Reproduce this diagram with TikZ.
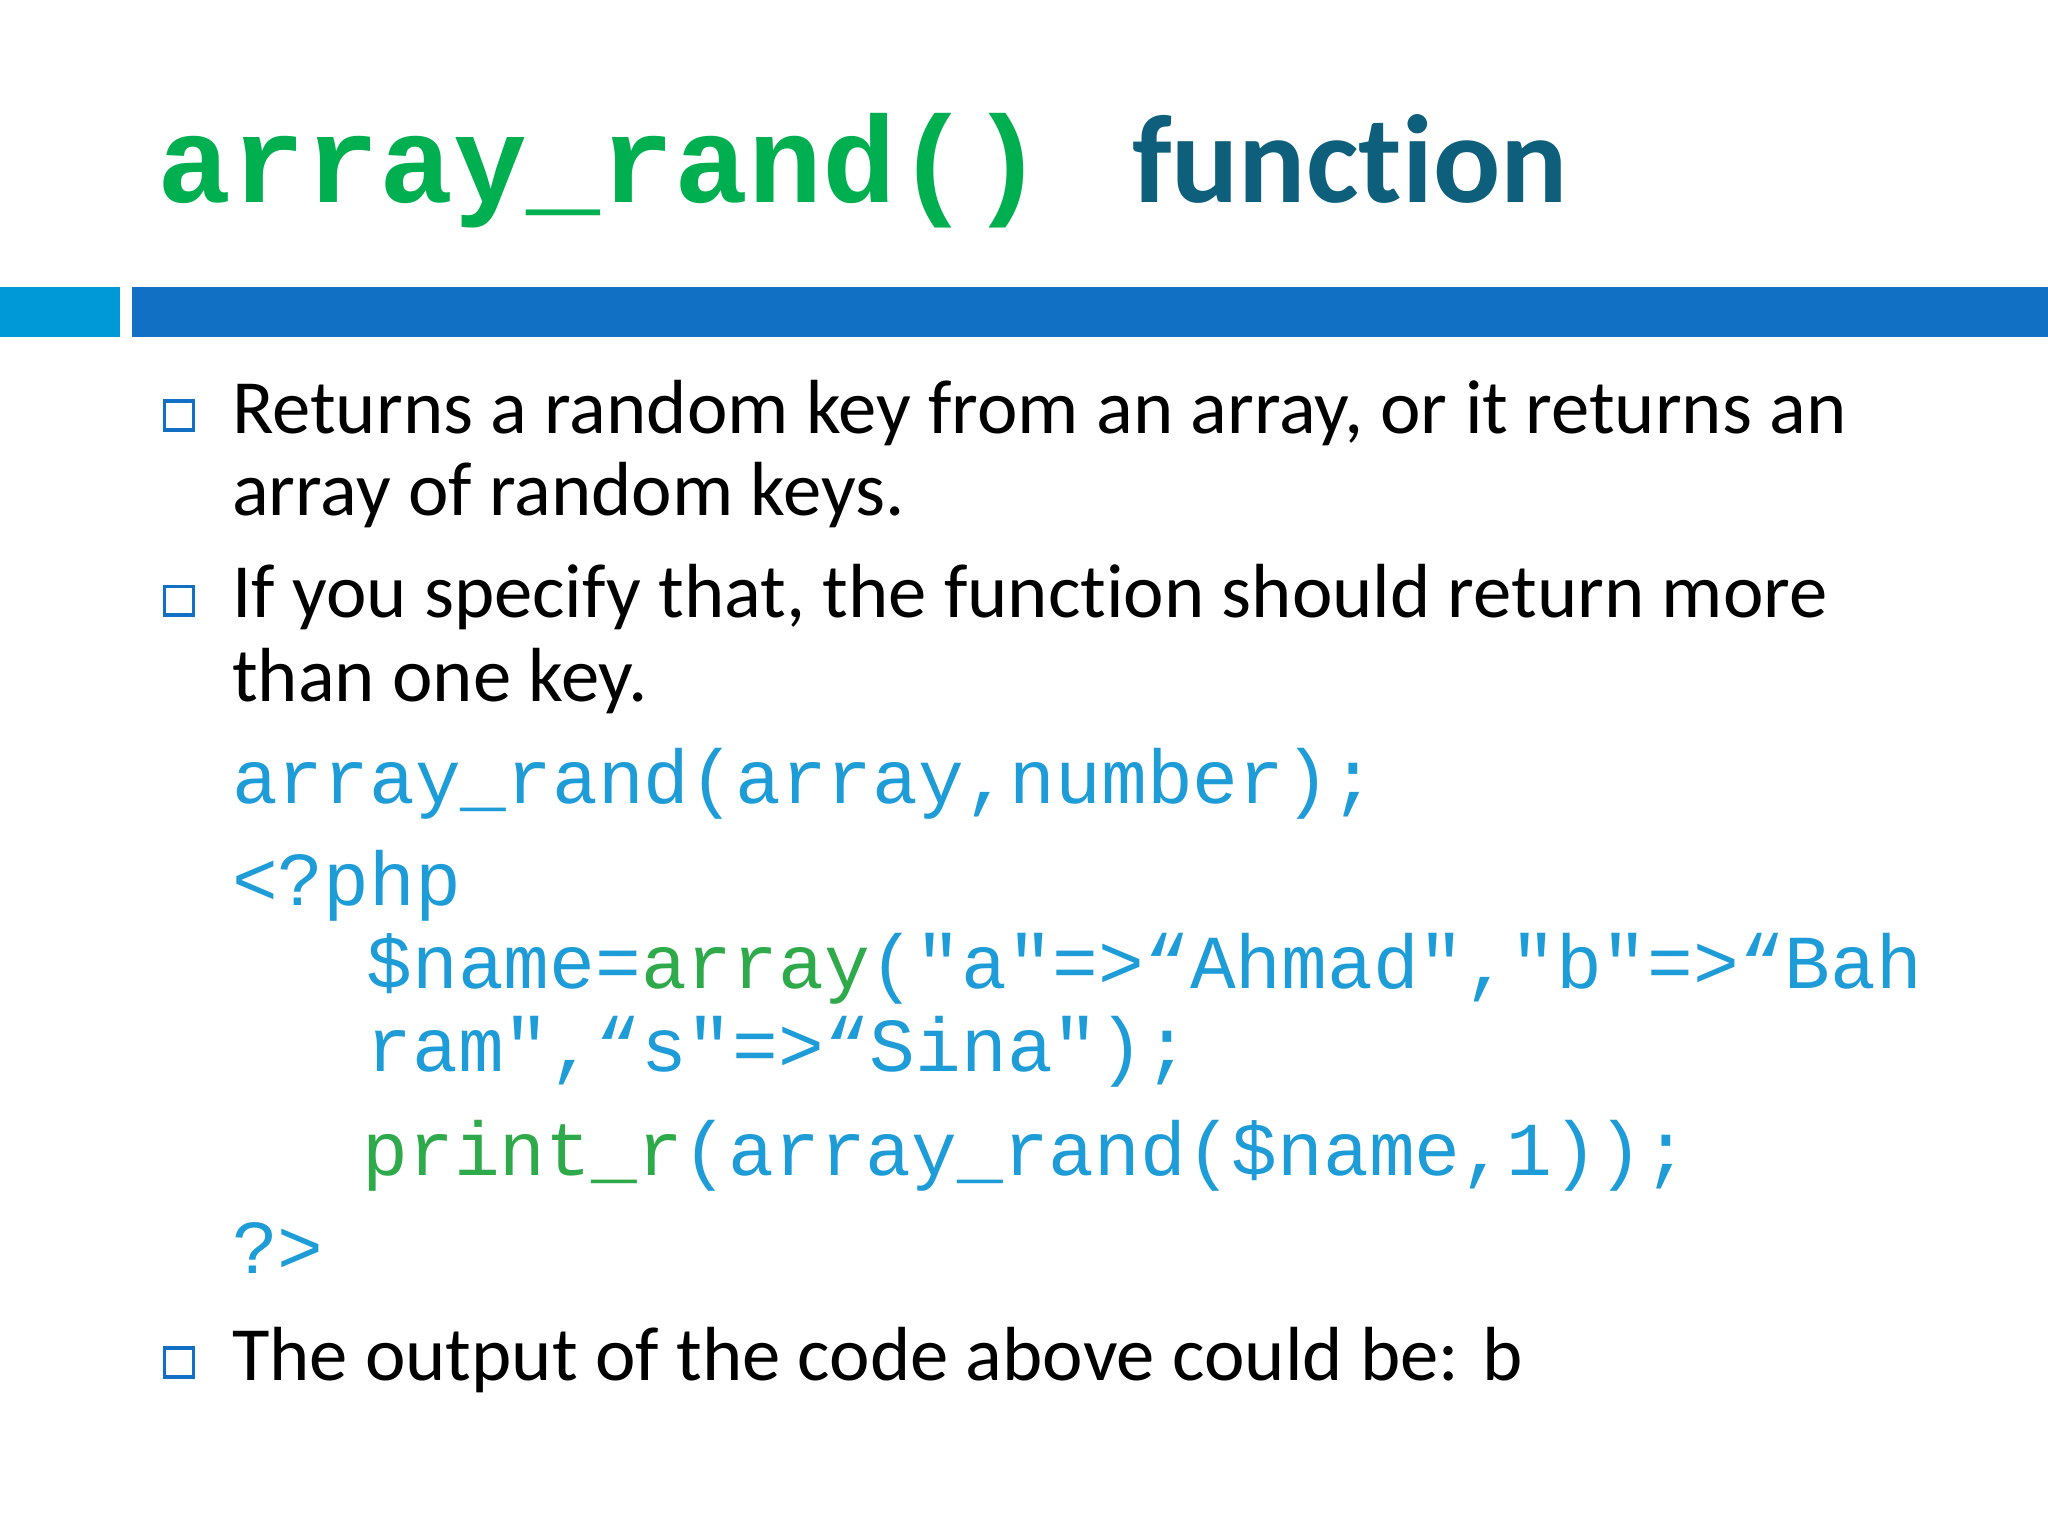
\documentclass[tikz,border=0pt]{standalone}
\usepackage{fontspec}
\setmainfont[Ligatures={NoCommon}]{Carlito}
\newfontfamily\cour{Liberation Mono}
\definecolor{tgreen}{HTML}{00B050}
\definecolor{tteal}{HTML}{0E5F7C}
\definecolor{lblue}{HTML}{0099D8}
\definecolor{dblue}{HTML}{1170C4}
\definecolor{cblue}{HTML}{1E9CD7}
\definecolor{cgreen}{HTML}{2EAA4A}
\tikzset{txt/.style={anchor=base west,inner sep=0,font=\fontsize{16.7}{20}\selectfont},
code/.style={anchor=base west,inner sep=0,text=cblue,font=\cour\fontsize{16.6}{20}\selectfont},
bul/.style={draw=dblue,line width=0.8pt,minimum size=6.3pt,inner sep=0}}
\begin{document}
\begin{tikzpicture}[x=0.01cm,y=-0.01cm]
\useasboundingbox (0,0) rectangle (1568,1176);
\node[anchor=base west,inner sep=0,text=tgreen,font=\cour\bfseries\fontsize{26.8}{30}\selectfont] (t1) at (120,155) {array\_rand()};
\node[anchor=base west,inner sep=0,text=tteal,font=\bfseries\fontsize{27.3}{32}\selectfont] (t2) at (866,155) {function};
\fill[lblue] (0,220) rectangle (92,258);
\fill[dblue] (101,220) rectangle (1568,258);
\node[bul] (b1) at (137,318) {};
\node[txt] (l1) at (177,332) {Returns a random key from an array, or it returns an};
\node[txt] (l2) at (177,395) {array of random keys.};
\node[bul] (b2) at (137,460) {};
\node[txt] (l3) at (177,473) {If you specify that, the function should return more};
\node[txt] (l4) at (177,537) {than one key.};
\node[code] (c1) at (177,615) {array\_rand(array,number);};
\node[code] (c2) at (177,693) {<?php};
\node[code] (c3) at (280,757) {\$name=\textcolor{cgreen}{array}("a"=>“Ahmad","b"=>“Bah};
\node[code] (c4) at (280,820) {ram",“s"=>“Sina");};
\node[code] (c5) at (277,900) {\textcolor{cgreen}{print\_r}(array\_rand(\$name,1));};
\node[code] (c6) at (177,975) {?>};
\node[bul] (b3) at (137,1043) {};
\node[txt] (l5) at (177,1057) {The output of the code above could be: b};
\end{tikzpicture}
\end{document}
